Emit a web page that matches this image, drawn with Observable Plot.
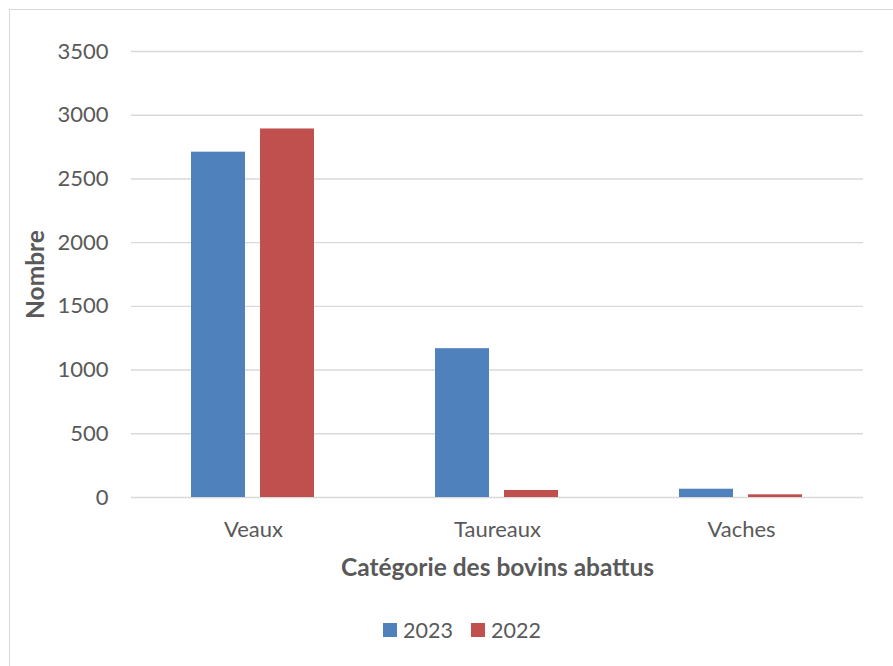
<!DOCTYPE html>
<html>
<head>
<meta charset="utf-8">
<script src="https://cdn.jsdelivr.net/npm/d3@7"></script>
<script src="https://cdn.jsdelivr.net/npm/@observablehq/plot@0.6"></script>
<style>
  html, body { margin: 0; padding: 0; background: #fff; }
  body { width: 893px; height: 666px; overflow: hidden; position: relative; font-family: Lato, "Noto Sans", sans-serif; }
  #frame { position: absolute; left: 9px; top: 9px; width: 920px; height: 700px; border-top: 1.5px solid #d9d9d9; border-left: 1.5px solid #d9d9d9; box-sizing: border-box; }
  #chart { position: absolute; left: 0; top: 0; }
  #legend { position: absolute; left: 0; top: 617px; width: 924px; display: flex; justify-content: center; gap: 18px; font-size: 21.5px; color: #595959; }
  .item { display: flex; align-items: center; gap: 6px; }
  .sw { width: 14px; height: 14px; display: inline-block; }
</style>
</head>
<body>
<div id="frame"></div>
<div id="chart"></div>
<div id="legend"></div>
<script>
const categories = ["Veaux", "Taureaux", "Vaches"];
const years = ["2023", "2022"];
const values2023 = [2710, 1168, 65];
const values2022 = [2892, 55, 21];
const yTicks = [0, 500, 1000, 1500, 2000, 2500, 3000, 3500];
const colors = ["#4f81bd", "#c0504d"];

const data = [];
categories.forEach((c, i) => {
  data.push({category: c, year: years[0], value: values2023[i]});
  data.push({category: c, year: years[1], value: values2022[i]});
});

const chart = Plot.plot({
  width: 893,
  height: 610,
  marginTop: 51,
  marginBottom: 113,
  marginLeft: 130,
  marginRight: 30,
  style: {fontFamily: "Lato, 'Noto Sans', sans-serif", fontSize: "22px", color: "#595959", background: "transparent"},
  fx: {domain: categories, padding: 0, label: "Catégorie des bovins abattus", labelAnchor: "center"},
  x: {domain: years, paddingInner: 0.214, paddingOuter: 0.852, axis: null},
  y: {domain: [0, 3500], label: "Nombre"},
  color: {domain: years, range: colors},
  marks: [
    Plot.gridY(yTicks, {stroke: "#d9d9d9", strokeOpacity: 1, strokeWidth: 1.4}),
    Plot.axisY(yTicks, {tickSize: 0, tickPadding: 23, tickFormat: d => String(d), fill: "#595959", fontSize: 22,
      label: "Nombre", labelAnchor: "center", labelOffset: 105, labelArrow: "none"}),
    Plot.axisFx({anchor: "bottom", tickSize: 0, tickPadding: 24, fill: "#595959", fontSize: 22,
      label: "Catégorie des bovins abattus", labelAnchor: "center", labelOffset: 78, labelArrow: "none"}),
    Plot.barY(data, {fx: "category", x: "year", y: "value", fill: "year"})
  ]
});
document.getElementById("chart").appendChild(chart);

// bold axis titles
d3.select(chart).selectAll('g[aria-label="y-axis label"] text, g[aria-label="fx-axis label"] text')
  .style("font-weight", "bold").style("font-size", "24.5px").attr("fill", "#595959");

const legend = d3.select("#legend");
years.forEach((y, i) => {
  const it = legend.append("div").attr("class", "item");
  it.append("span").attr("class", "sw").style("background", colors[i]);
  it.append("span").text(y);
});
</script>
</body>
</html>
